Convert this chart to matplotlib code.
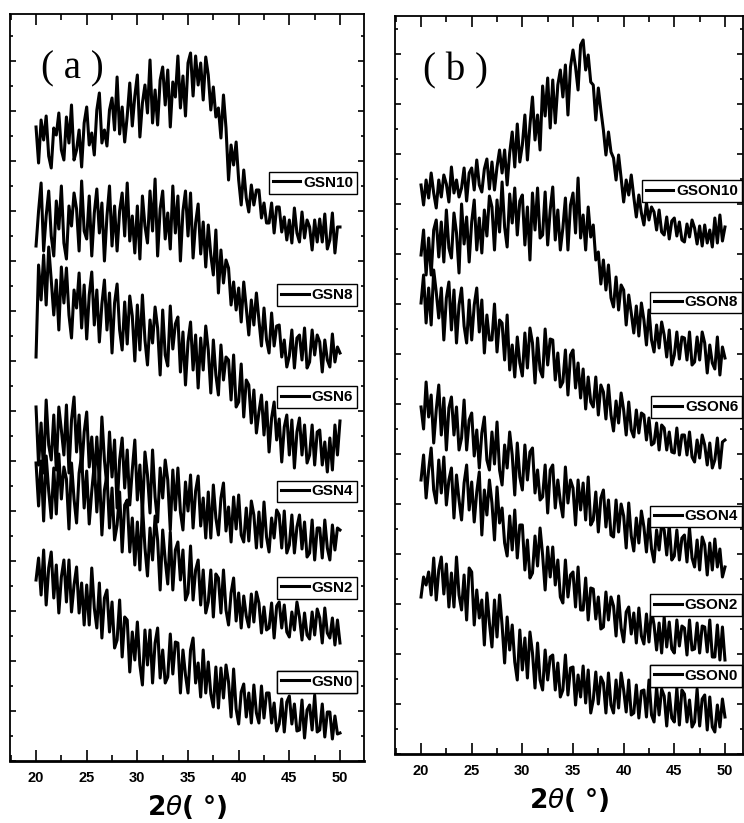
import numpy as np
import matplotlib
matplotlib.use("Agg")
import matplotlib.pyplot as plt
from matplotlib.ticker import MultipleLocator

# 2-theta grid (deg) and intensities (a.u.)
two_theta = np.linspace(20, 50, 121)

gsn10 = [634, 598, 641, 621, 645, 605, 593, 633, 626, 648, 611, 601, 644, 618, 656, 601,
         611, 631, 594, 638, 654, 616, 628, 606, 651, 668, 618, 631, 615, 651, 663, 631,
         684, 627, 654, 619, 645, 678, 635, 665, 686, 624, 658, 676, 648, 701, 638, 671,
         636, 681, 694, 656, 691, 634, 679, 664, 705, 653, 685, 645, 698, 708, 665, 705,
         676, 698, 661, 704, 686, 651, 674, 644, 653, 623, 666, 633, 581, 616, 596, 619,
         581, 556, 591, 563, 549, 576, 556, 571, 571, 543, 558, 538, 538, 558, 528, 554,
         554, 529, 544, 521, 541, 518, 553, 528, 519, 549, 523, 541, 534, 511, 541, 519,
         542, 519, 547, 512, 521, 548, 508, 534, 534]
gsn8 = [515, 550, 578, 510, 545, 570, 525, 505, 560, 532, 575, 518, 502, 555, 535, 568,
        552, 510, 580, 530, 522, 565, 505, 548, 572, 528, 558, 500, 545, 575, 515, 555,
        510, 550, 568, 525, 578, 520, 545, 508, 555, 502, 565, 535, 518, 570, 530, 582,
        505, 552, 570, 522, 548, 512, 575, 528, 565, 500, 550, 570, 525, 568, 503, 538,
        557, 507, 539, 494, 536, 506, 486, 531, 468, 511, 478, 501, 493, 456, 479, 451,
        473, 439, 479, 453, 426, 461, 436, 468, 441, 415, 453, 421, 408, 448, 415, 435,
        436, 404, 421, 394, 405, 431, 393, 423, 426, 401, 433, 393, 399, 431, 406, 426,
        419, 389, 421, 401, 394, 427, 399, 414, 408]
gsn6 = [404, 496, 461, 506, 456, 514, 481, 446, 481, 431, 494, 458, 493, 446, 423, 471,
        453, 488, 433, 476, 422, 466, 489, 436, 471, 419, 457, 481, 431, 468, 408, 458,
        477, 431, 411, 459, 417, 465, 445, 400, 456, 411, 466, 421, 396, 441, 418, 454,
        433, 386, 451, 406, 395, 455, 412, 437, 444, 389, 429, 376, 419, 439, 391, 426,
        373, 423, 391, 435, 411, 368, 421, 386, 366, 416, 381, 404, 401, 361, 406, 354,
        359, 397, 344, 381, 376, 338, 371, 328, 349, 366, 326, 359, 309, 343, 359, 321,
        342, 299, 334, 346, 306, 341, 293, 329, 343, 306, 336, 298, 306, 336, 296, 329,
        331, 296, 319, 289, 323, 291, 336, 306, 340]
gsn4 = [354, 296, 338, 288, 361, 316, 301, 346, 291, 354, 331, 306, 356, 288, 341, 364,
        309, 346, 289, 329, 349, 294, 324, 279, 324, 278, 344, 301, 274, 329, 284, 321,
        253, 301, 323, 273, 311, 256, 291, 321, 261, 296, 246, 309, 286, 248, 311, 264,
        239, 293, 263, 301, 281, 231, 291, 251, 293, 249, 231, 279, 250, 286, 233, 270,
        285, 235, 263, 223, 269, 223, 276, 243, 226, 263, 278, 230, 254, 219, 264, 232,
        266, 226, 219, 253, 220, 260, 246, 213, 249, 214, 259, 224, 209, 243, 223, 251,
        246, 213, 250, 208, 216, 246, 208, 234, 246, 212, 239, 204, 208, 241, 201, 233,
        233, 203, 241, 213, 201, 236, 211, 233, 231]
gsn2 = [298, 255, 300, 240, 305, 270, 243, 293, 247, 307, 262, 294, 282, 232, 298, 262,
        238, 288, 306, 253, 290, 237, 270, 297, 249, 291, 226, 271, 286, 233, 273, 221,
        236, 269, 209, 256, 261, 209, 243, 196, 239, 191, 256, 213, 185, 233, 201, 245,
        221, 171, 231, 201, 177, 229, 171, 211, 219, 181, 211, 161, 168, 215, 161, 191,
        201, 156, 191, 148, 159, 191, 144, 187, 183, 148, 191, 151, 136, 168, 183, 140,
        168, 133, 165, 145, 134, 167, 139, 169, 158, 128, 154, 131, 133, 158, 123, 155,
        159, 133, 156, 129, 124, 149, 131, 159, 144, 121, 148, 126, 122, 149, 126, 152,
        143, 118, 153, 128, 123, 143, 116, 141, 118]
gsn0 = [181, 203, 166, 211, 156, 193, 209, 163, 196, 148, 184, 201, 159, 201, 149, 176,
        194, 148, 178, 136, 176, 136, 193, 153, 133, 178, 123, 163, 171, 129, 159, 113,
        121, 161, 104, 144, 141, 89, 129, 101, 139, 96, 76, 131, 96, 131, 78, 118,
        133, 83, 111, 78, 84, 127, 87, 119, 118, 68, 111, 86, 68, 111, 123, 78,
        98, 64, 111, 68, 99, 67, 54, 94, 53, 93, 63, 96, 79, 44, 92, 52,
        37, 69, 77, 44, 68, 38, 76, 48, 38, 75, 43, 68, 68, 38, 58, 30,
        37, 62, 29, 59, 65, 37, 57, 30, 31, 61, 23, 51, 56, 31, 66, 29,
        31, 57, 24, 49, 49, 22, 45, 27, 28]

gson10 = [569, 549, 574, 556, 581, 561, 546, 574, 557, 579, 570, 552, 587, 561, 574, 557,
          566, 586, 553, 581, 586, 564, 594, 569, 562, 585, 595, 565, 592, 564, 587, 604,
          581, 604, 569, 601, 622, 587, 630, 592, 609, 639, 594, 629, 657, 614, 639, 604,
          668, 638, 676, 626, 674, 631, 669, 684, 657, 689, 639, 687, 704, 687, 664, 709,
          714, 684, 699, 672, 669, 634, 666, 644, 624, 599, 622, 602, 596, 574, 599, 576,
          552, 574, 559, 579, 557, 537, 559, 541, 529, 551, 534, 547, 542, 524, 544, 522,
          519, 537, 515, 533, 536, 518, 532, 514, 512, 530, 517, 534, 526, 510, 528, 508,
          529, 511, 524, 507, 536, 511, 539, 513, 527]
gson8 = [499, 524, 479, 516, 479, 524, 534, 497, 532, 492, 544, 506, 496, 541, 521, 481,
         550, 510, 537, 492, 532, 554, 504, 536, 501, 544, 518, 558, 547, 504, 554, 522,
         572, 527, 507, 560, 531, 566, 519, 553, 559, 509, 547, 494, 561, 524, 566, 516,
         519, 562, 509, 544, 567, 514, 544, 504, 526, 556, 504, 549, 561, 521, 576, 516,
         539, 504, 547, 517, 529, 494, 502, 470, 494, 464, 489, 456, 447, 477, 444, 469,
         464, 429, 459, 441, 421, 448, 418, 451, 434, 409, 444, 414, 402, 429, 406, 432,
         419, 397, 424, 389, 399, 422, 395, 417, 416, 394, 422, 389, 392, 417, 394, 422,
         411, 381, 409, 391, 385, 417, 379, 407, 396]
gson6 = [451, 479, 431, 466, 429, 484, 462, 436, 466, 414, 456, 472, 424, 464, 411, 449,
         466, 428, 411, 454, 414, 449, 466, 422, 454, 401, 439, 414, 414, 450, 402, 434,
         431, 394, 439, 384, 409, 377, 417, 391, 378, 421, 386, 426, 411, 371, 416, 384,
         377, 425, 389, 415, 414, 374, 401, 367, 372, 404, 359, 399, 404, 366, 391, 356,
         385, 345, 377, 352, 347, 377, 339, 369, 362, 335, 369, 339, 323, 353, 331, 361,
         344, 319, 352, 324, 317, 344, 321, 341, 339, 314, 336, 309, 311, 331, 304, 329,
         326, 304, 322, 302, 301, 326, 299, 319, 319, 299, 322, 297, 292, 314, 296, 319,
         309, 289, 311, 286, 294, 316, 286, 312, 314]
gson4 = [347, 325, 372, 337, 359, 311, 344, 369, 319, 356, 304, 346, 357, 319, 347, 304,
         316, 354, 304, 334, 341, 298, 324, 286, 321, 337, 294, 284, 322, 290, 332, 284,
         269, 309, 286, 322, 299, 259, 311, 277, 264, 309, 274, 302, 306, 261, 284, 254,
         257, 289, 241, 284, 289, 246, 274, 252, 237, 287, 251, 274, 266, 229, 274, 244,
         271, 234, 277, 229, 234, 262, 222, 256, 264, 227, 254, 219, 217, 254, 222, 250,
         238, 206, 251, 218, 203, 236, 211, 243, 227, 202, 235, 205, 192, 224, 204, 230,
         224, 199, 229, 194, 198, 224, 194, 216, 219, 192, 226, 196, 187, 214, 184, 217,
         209, 179, 211, 184, 215, 187, 205, 177, 187]
gson2 = [274, 299, 256, 284, 306, 264, 251, 294, 261, 297, 249, 274, 286, 236, 279, 254,
         234, 271, 289, 244, 272, 232, 262, 282, 219, 264, 239, 274, 251, 214, 267, 231,
         246, 211, 198, 238, 204, 244, 196, 229, 229, 184, 214, 176, 181, 218, 188, 226,
         199, 164, 207, 177, 207, 169, 194, 157, 151, 194, 157, 179, 182, 147, 187, 144,
         144, 176, 134, 166, 165, 135, 157, 125, 127, 162, 134, 157, 148, 118, 158, 126,
         112, 142, 147, 120, 141, 111, 146, 118, 110, 140, 112, 144, 129, 104, 131, 101,
         137, 107, 132, 105, 101, 134, 108, 128, 126, 99, 134, 104, 105, 131, 101, 128,
         127, 102, 134, 97, 97, 129, 94, 127, 94]
gson0 = [157, 177, 169, 182, 159, 196, 154, 184, 197, 160, 190, 147, 181, 147, 197, 159,
         144, 179, 134, 186, 182, 129, 164, 136, 154, 109, 161, 131, 107, 154, 117, 159,
         129, 91, 137, 104, 129, 92, 74, 124, 84, 116, 76, 122, 101, 66, 111, 74,
         64, 104, 74, 97, 99, 64, 91, 57, 64, 99, 59, 86, 87, 49, 79, 57,
         88, 51, 84, 41, 54, 82, 50, 77, 71, 41, 81, 49, 41, 74, 46, 81,
         64, 42, 74, 39, 41, 69, 36, 63, 64, 37, 74, 39, 32, 67, 39, 65,
         58, 28, 61, 36, 32, 66, 29, 64, 60, 32, 54, 27, 32, 65, 28, 55,
         59, 24, 57, 27, 22, 49, 27, 55, 37]

names_a = ["GSN10", "GSN8", "GSN6", "GSN4", "GSN2", "GSN0"]
names_b = ["GSON10", "GSON8", "GSON6", "GSON4", "GSON2", "GSON0"]
series_a = [gsn10, gsn8, gsn6, gsn4, gsn2, gsn0]
series_b = [gson10, gson8, gson6, gson4, gson2, gson0]

# legend box positions (axes fraction, right edge / vertical centre)
leg_a = [(0.980, 0.774), (0.980, 0.624), (0.980, 0.487), (0.980, 0.361), (0.980, 0.232), (0.980, 0.106)]
leg_b = [(0.997, 0.763), (0.997, 0.612), (0.997, 0.470), (0.997, 0.322), (0.997, 0.202), (0.997, 0.106)]

fig = plt.figure(figsize=(7.44, 8.23), dpi=100)
ax_a = fig.add_axes([10/744, 1-761/823, 354/744, 747/823])
ax_b = fig.add_axes([395/744, 1-754/823, 348/744, 738/823])

tickfont = {"family": "Liberation Sans", "weight": "bold", "size": 10.5}


def panel(ax, series, names, legpos, tag, xmax, ymax):
    for ys, nm, (lx, ly) in zip(series, names, legpos):
        ln, = ax.plot(two_theta, ys, color="black", lw=2.2)
        leg = ax.legend([ln], [nm], loc="center right", bbox_to_anchor=(lx, ly),
                        borderaxespad=0, borderpad=0.25, handlelength=1.8,
                        handletextpad=0.2, fancybox=False, framealpha=1,
                        edgecolor="black",
                        prop={"family": "Liberation Sans", "weight": "bold", "size": 11})
        leg.get_frame().set_linewidth(1.0)
        ax.add_artist(leg)
    ax.set_xlim(17.43, xmax)
    ax.set_ylim(0, ymax)
    ax.xaxis.set_major_locator(MultipleLocator(5))
    ax.xaxis.set_minor_locator(MultipleLocator(2.5))
    ax.yaxis.set_major_locator(MultipleLocator(50))
    ax.yaxis.set_minor_locator(MultipleLocator(25))
    ax.tick_params(which="both", direction="in", top=True, right=True, width=1.2)
    ax.tick_params(which="major", length=8)
    ax.tick_params(which="minor", length=4)
    ax.tick_params(axis="y", which="major", length=4)
    ax.tick_params(axis="y", which="minor", length=2)
    ax.set_yticklabels([])
    ax.set_xticks([20, 25, 30, 35, 40, 45, 50])
    ax.set_xticklabels(["20", "25", "30", "35", "40", "45", "50"], fontdict=tickfont)
    ax.tick_params(axis="x", pad=7)
    for s in ax.spines.values():
        s.set_linewidth(1.3)
    ax.spines["bottom"].set_linewidth(2.0)
    ax.set_xlabel(r"2$\it{\theta}$( °)", fontsize=19, fontweight="bold",
                  family="DejaVu Sans", labelpad=6)
    ax.text(0.175, 0.926, tag, transform=ax.transAxes, ha="center", va="center",
            fontsize=28, family="Liberation Serif")


panel(ax_a, series_a, names_a, leg_a, "( a )", 52.37, 747)
panel(ax_b, series_b, names_b, leg_b, "( b )", 51.78, 738)

fig.savefig("out.png", dpi=100)
